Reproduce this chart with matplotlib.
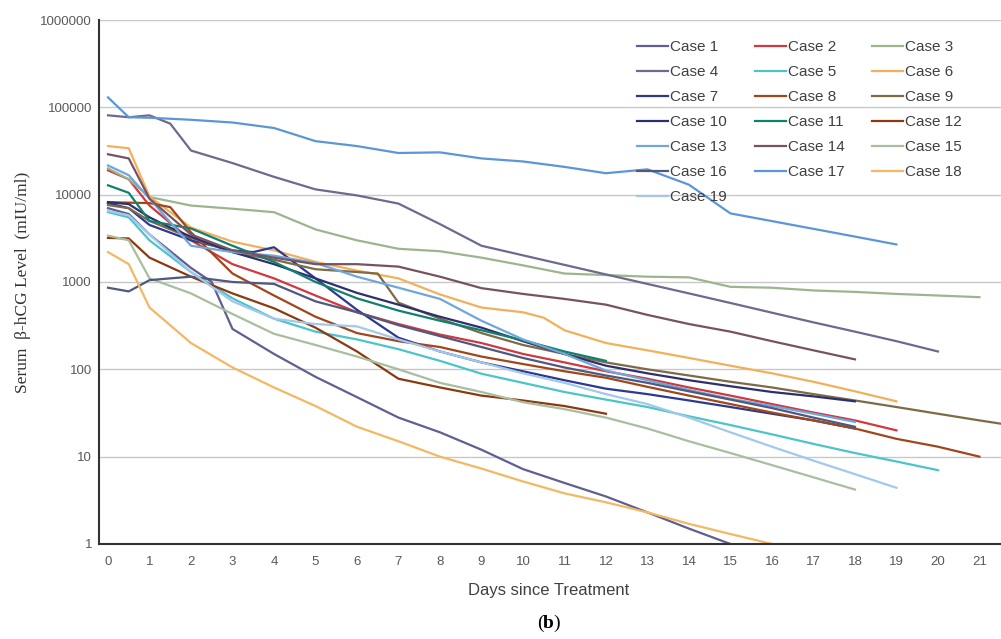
import numpy as np
import matplotlib
matplotlib.use("Agg")
import matplotlib.pyplot as plt
from matplotlib.ticker import FixedLocator, NullLocator

# serum b-hCG per case, days since treatment
case1_days = [0, 0.5, 1, 2, 2.5, 3] + list(range(4, 16))
case1_vals = [7000, 6000, 3500, 1450, 1000, 290, 150, 82, 48, 28, 19, 12, 7.2, 5, 3.5, 2.3, 1.5, 1]
case2_days = [0, 0.5] + list(range(1, 20))
case2_vals = [19000, 15000, 7500, 3000, 1600, 1100, 700, 450, 330, 250, 200, 150, 120, 95, 78, 62, 50, 40, 32, 26, 20]
case3_days = [0, 0.5] + list(range(1, 22))
case3_vals = [20000, 15000, 9400, 7500, 6900, 6300, 4000, 3000, 2400, 2250, 1900, 1550, 1250, 1200, 1150, 1130,
              880, 860, 800, 770, 730, 700, 670]
case4_days = [0, 0.5, 1, 1.5, 2] + list(range(3, 21))
case4_vals = [81000, 77000, 81000, 65000, 32000, 23000, 16000, 11500, 9800, 7900, 4600, 2600, 2020, 1570, 1220,
              950, 740, 575, 445, 345, 270, 210, 160]
case5_days = [0, 0.5] + list(range(1, 21))
case5_vals = [6300, 5500, 3000, 1300, 650, 380, 270, 220, 170, 125, 89, 70, 55, 45, 37, 29, 23, 18, 14, 11, 8.8, 7]
case6_days = [0, 0.5] + list(range(1, 11)) + [10.5] + list(range(11, 20))
case6_vals = [36000, 34000, 9500, 4200, 2900, 2300, 1700, 1350, 1100, 720, 510, 450, 390, 280, 200, 165, 135, 110,
              90, 72, 56, 43]
case7_days = [0, 0.5, 1, 2, 3, 3.5, 4] + list(range(5, 19))
case7_vals = [8000, 7000, 4500, 3000, 2300, 2200, 2500, 1100, 480, 230, 160, 120, 95, 75, 60, 52, 44, 37, 31, 26, 21]
case8_days = [0, 0.5, 1, 1.5] + list(range(2, 22))
case8_vals = [8200, 8100, 8000, 7200, 3700, 1250, 700, 400, 260, 210, 180, 140, 115, 95, 80, 63, 50, 40, 32, 26,
              21, 16, 13, 10]
case9_days = [0, 0.5] + list(range(1, 7)) + [6.5] + list(range(7, 23))
case9_vals = [7600, 7000, 5000, 3200, 2200, 1800, 1400, 1300, 1250, 580, 380, 260, 190, 150, 120, 100, 85, 72, 62,
              52, 44, 37, 31, 26, 22]
case10_days = [0, 0.5, 1, 1.5] + list(range(2, 19))
case10_vals = [8200, 7800, 5500, 4200, 3300, 2200, 1600, 1100, 750, 550, 400, 300, 210, 150, 110, 90, 75, 64, 55, 49, 43]
case11_days = [0, 0.5] + list(range(1, 13))
case11_vals = [12800, 10500, 5000, 4100, 2600, 1700, 1000, 650, 470, 360, 280, 215, 160, 125]
case12_days = [0, 0.5] + list(range(1, 13))
case12_vals = [3200, 3150, 1900, 1150, 740, 500, 300, 160, 78, 62, 50, 44, 38, 31]
case13_days = [0, 0.5] + list(range(1, 19))
case13_vals = [21600, 16700, 9000, 2600, 2200, 2000, 1650, 1150, 860, 640, 360, 220, 150, 97, 75, 58, 46, 38, 31, 25]
case14_days = [0, 0.5] + list(range(1, 19))
case14_vals = [29000, 26000, 9000, 3500, 2300, 1900, 1600, 1600, 1500, 1150, 850, 730, 640, 550, 420, 330, 270,
               210, 165, 130]
case15_days = [0, 0.5] + list(range(1, 19))
case15_vals = [3400, 3000, 1100, 740, 430, 255, 190, 140, 100, 70, 55, 42, 35, 28, 21, 15, 11, 8, 5.8, 4.2]
case16_days = [0, 0.5, 1, 1.5] + list(range(2, 19))
case16_vals = [860, 780, 1050, 1100, 1150, 1000, 950, 600, 450, 320, 240, 180, 135, 105, 85, 70, 56, 45, 36, 28, 22]
case17_days = [0, 0.5] + list(range(1, 20))
case17_vals = [130000, 77000, 76000, 72000, 67000, 58000, 41000, 36000, 30000, 30500, 26000, 24000, 20800, 17600,
               19500, 13000, 6100, 4980, 4060, 3310, 2690]
case18_days = [0, 0.5] + list(range(1, 17))
case18_vals = [2200, 1600, 510, 200, 105, 62, 38, 22, 15, 10, 7.3, 5.2, 3.8, 3, 2.3, 1.7, 1.3, 1]
case19_days = [0, 0.5] + list(range(1, 20))
case19_vals = [6500, 5800, 3500, 1300, 600, 380, 330, 310, 220, 160, 120, 90, 70, 52, 40, 28, 19, 13, 9, 6.3, 4.4]

all_days = [case1_days, case2_days, case3_days, case4_days, case5_days, case6_days, case7_days, case8_days,
            case9_days, case10_days, case11_days, case12_days, case13_days, case14_days, case15_days,
            case16_days, case17_days, case18_days, case19_days]
all_vals = [case1_vals, case2_vals, case3_vals, case4_vals, case5_vals, case6_vals, case7_vals, case8_vals,
            case9_vals, case10_vals, case11_vals, case12_vals, case13_vals, case14_vals, case15_vals,
            case16_vals, case17_vals, case18_vals, case19_vals]
labels = ["Case %d" % (i + 1) for i in range(19)]
colors = ['#5E5F92', '#D0393F', '#9DB58E', '#6E6A8E', '#4CC4C8', '#F2B05C', '#2B3990', '#A1461B', '#7D6B47',
          '#2D2F6F', '#12806E', '#8A3A10', '#6FA6DB', '#76545F', '#A8BE9E', '#50597D', '#5B97D6', '#F4B762',
          '#A4C8EC']

x_ticks = list(range(0, 22))
y_ticks = [1, 10, 100, 1000, 10000, 100000, 1000000]

fig = plt.figure(figsize=(10.01, 6.39), dpi=100)
ax = fig.add_axes([0.0989, 0.1487, 0.9011, 0.8200])

lines = []
for d, v, c, lab in zip(all_days, all_vals, colors, labels):
    ln, = ax.plot(d, v, color=c, lw=1.6, label=lab, solid_joinstyle='round')
    lines.append(ln)

ax.set_yscale('log')
ax.set_ylim(1, 1000000)
ax.set_xlim(-0.217, 21.52)
ax.yaxis.set_major_locator(FixedLocator(y_ticks))
ax.yaxis.set_minor_locator(NullLocator())
ax.set_yticklabels([str(t) for t in y_ticks])
ax.set_xticks(x_ticks)
ax.set_xticklabels([str(t) for t in x_ticks])
ax.tick_params(axis='both', length=0, labelsize=9.5, labelcolor='#595959')
ax.tick_params(axis='y', pad=5)
ax.tick_params(axis='x', pad=9)
for lab in ax.get_xticklabels() + ax.get_yticklabels():
    lab.set_fontfamily('Liberation Sans')

ax.grid(axis='y', color='#C8C8C8', lw=1.0)
ax.set_axisbelow(True)
ax.spines['top'].set_visible(False)
ax.spines['right'].set_visible(False)
ax.spines['left'].set_color('#333333')
ax.spines['bottom'].set_color('#333333')
ax.spines['left'].set_linewidth(1.5)
ax.spines['bottom'].set_linewidth(1.5)

ax.set_ylabel('Serum  β-hCG Level  (mIU/ml)', family='Liberation Serif', fontsize=12.5, color='#333333')
ax.yaxis.set_label_coords((31 - 99) / 902, 0.5)
fig.text(0.548, 1 - 591 / 639, 'Days since Treatment', ha='center', va='center', fontsize=12,
         color='#404040', family='Liberation Sans')
fig.text(0.5432, 1 - 623 / 639, '(', ha='right', va='center', fontsize=14, family='Liberation Serif')
fig.text(0.548, 1 - 623 / 639, 'b', ha='center', va='center', fontsize=14, family='Liberation Serif',
         weight='bold')
fig.text(0.5528, 1 - 623 / 639, ')', ha='left', va='center', fontsize=14, family='Liberation Serif')

# legend fills column-wise, so reorder to read row-wise
order = [0, 3, 6, 9, 12, 15, 18, 1, 4, 7, 10, 13, 16, 2, 5, 8, 11, 14, 17]
leg = fig.legend([lines[i] for i in order], [labels[i] for i in order], ncol=3, frameon=False,
                 loc='upper left', bbox_to_anchor=(637 / 1001, 1 - 40 / 639), borderpad=0, borderaxespad=0,
                 handlelength=2.03, handletextpad=0.13, columnspacing=1.83, labelspacing=0.72,
                 prop={'family': 'Liberation Sans', 'size': 11})
for t in leg.get_texts():
    t.set_color('#404040')

fig.savefig('out.png', dpi=100)
